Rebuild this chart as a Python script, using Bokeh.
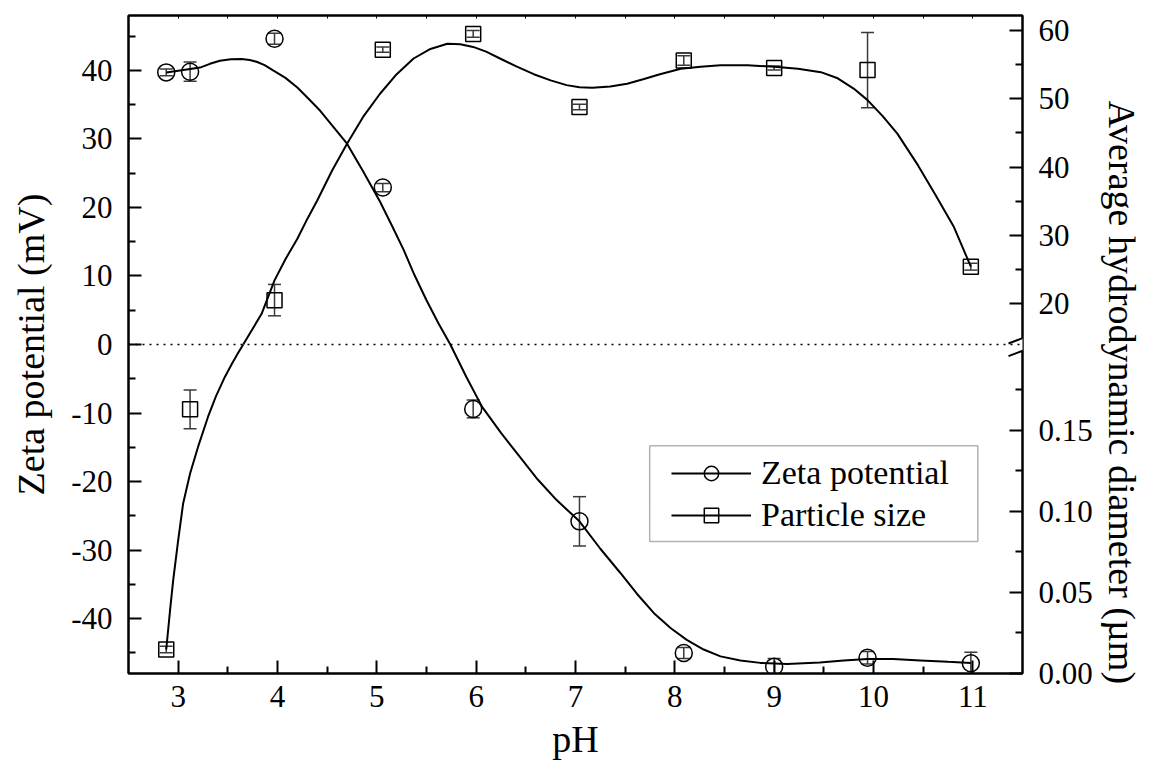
from bokeh.plotting import figure
from bokeh.models import (Range1d, LinearAxis, FixedTicker, ColumnDataSource, Whisker,
                          TeeHead, Span, Legend, LegendItem, Arrow, CustomJSTickFormatter,
                          Title, BoxAnnotation)
from bokeh.embed import file_html
from bokeh.resources import INLINE

# ---------------- data ----------------
ph = [2.88, 3.12, 3.97, 5.06, 5.97, 7.04, 8.09, 9.00, 9.94, 10.98]
zeta = [39.7, 39.8, 44.6, 22.9, -9.4, -25.8, -45.0, -47.0, -45.7, -46.5]
zeta_err = [0.5, 1.4, 0.8, 0.6, 1.3, 3.6, 0.8, 1.2, 0.9, 1.6]

size = [0.0148, 0.163, 20.5, 57.2, 59.5, 48.8, 55.6, 54.5, 54.2, 25.4]
size_err = [0.002, 0.012, 2.3, 0.4, 0.5, 0.4, 0.7, 0.3, 5.5, 0.5]

# smooth fitted curves
zeta_fit_ph = [2.88, 3.0, 3.12, 3.22, 3.32, 3.42, 3.53, 3.64, 3.72, 3.79, 3.87, 3.96, 4.08,
               4.20, 4.31, 4.43, 4.56, 4.70, 4.86, 5.03, 5.15, 5.27, 5.38, 5.50, 5.62, 5.74,
               5.90, 6.06, 6.25, 6.44, 6.62, 6.81, 7.04, 7.25, 7.45, 7.62, 7.79, 7.96, 8.12,
               8.29, 8.46, 8.66, 8.86, 9.13, 9.46, 9.70, 9.94, 10.20, 10.47, 10.75, 10.98]
zeta_fit = [39.7, 39.95, 40.2, 40.4, 40.95, 41.4, 41.6, 41.65, 41.5, 41.25, 40.75, 39.95,
            38.9, 37.5, 35.9, 34.1, 31.8, 29.3, 25.3, 20.9, 17.4, 13.8, 10.1, 6.45, 3.1, 0.0,
            -4.7, -9.1, -12.9, -16.4, -19.7, -22.7, -25.8, -29.8, -33.3, -36.4, -39.2, -41.4,
            -43.1, -44.5, -45.5, -46.1, -46.45, -46.6, -46.4, -46.1, -45.9, -45.9, -46.1,
            -46.3, -46.45]

size_fit_lo_ph = [2.88, 2.92, 2.95, 3.00, 3.05, 3.12, 3.20, 3.30, 3.38, 3.47, 3.54, 3.60,
                  3.655]
size_fit_lo = [0.0148, 0.040, 0.0576, 0.0822, 0.1049, 0.1234, 0.1398, 0.1583, 0.1710, 0.1830,
               0.1910, 0.1974, 0.203]
size_fit_hi_ph = [3.655, 3.75, 3.84, 3.97, 4.08, 4.20, 4.30, 4.40, 4.55, 4.70, 4.86, 5.03,
                  5.20, 5.37, 5.54, 5.71, 5.84, 5.97, 6.10, 6.24, 6.41, 6.58, 6.75, 6.91,
                  7.04, 7.17, 7.35, 7.52, 7.69, 7.85, 8.06, 8.26, 8.46, 8.73, 9.00, 9.24,
                  9.47, 9.64, 9.80, 9.94, 10.09, 10.24, 10.45, 10.62, 10.81, 10.98]
size_fit_hi = [14.0, 16.3, 18.5, 23.4, 26.5, 29.5, 32.4, 35.1, 39.5, 43.4, 47.3, 50.7, 53.6,
               55.9, 57.3, 58.05, 58.0, 57.6, 56.9, 55.9, 54.7, 53.6, 52.7, 52.0, 51.7, 51.6,
               51.8, 52.2, 52.9, 53.6, 54.4, 54.7, 54.9, 54.9, 54.7, 54.4, 53.9, 53.0, 51.5,
               49.8, 47.5, 44.9, 40.2, 36.0, 31.2, 25.4]

x_ticks = [3, 4, 5, 6, 7, 8, 9, 10, 11]
x_minor = [3.5, 4.5, 5.5, 6.5, 7.5, 8.5, 9.5, 10.5]
zeta_ticks = [-40, -30, -20, -10, 0, 10, 20, 30, 40]
zeta_minor = [-45, -35, -25, -15, -5, 5, 15, 25, 35, 45]
size_hi_ticks = [20, 30, 40, 50, 60]
size_hi_minor = [25, 35, 45, 55]
size_lo_ticks = [0.00, 0.05, 0.10, 0.15]
size_lo_minor = [0.025, 0.075, 0.125, 0.175]

# axis settings
X_RANGE = (2.5, 11.5)
ZETA_RANGE = (-48.0, 48.0)
SIZE_LO_BREAK = 0.203   # value at the break (lower segment)
SIZE_HI_BREAK = 14.0    # value at the break (upper segment)
SIZE_HI_TOP = 62.2

FONT = "Liberation Serif"
TITLE_SIZE = "38px"

p = figure(width=1152, height=783, x_range=Range1d(*X_RANGE), y_range=Range1d(*ZETA_RANGE),
           output_backend="svg", toolbar_location=None,
           min_border_left=128, min_border_right=130, min_border_top=15, min_border_bottom=110)
p.extra_y_ranges = {
    "hi": Range1d(2 * SIZE_HI_BREAK - SIZE_HI_TOP, SIZE_HI_TOP),
    "lo": Range1d(0.0, 2 * SIZE_LO_BREAK),
}
p.xgrid.visible = False
p.ygrid.visible = False
p.outline_line_color = "black"
p.outline_line_width = 2
p.background_fill_color = "white"
p.border_fill_color = "white"


def style_axis(ax):
    ax.axis_line_width = 2
    ax.axis_line_color = "black"
    ax.major_tick_in = 13
    ax.major_tick_out = 0
    ax.minor_tick_in = 7
    ax.minor_tick_out = 0
    ax.major_tick_line_width = 2
    ax.minor_tick_line_width = 2
    ax.major_tick_line_color = "black"
    ax.minor_tick_line_color = "black"
    ax.major_label_text_font = FONT
    ax.major_label_text_font_size = "31px"
    ax.major_label_text_color = "black"
    ax.axis_label_text_font = FONT
    ax.axis_label_text_font_size = TITLE_SIZE
    ax.axis_label_text_font_style = "normal"
    ax.axis_label_text_color = "black"


xa = p.xaxis[0]
xa.ticker = FixedTicker(ticks=x_ticks, minor_ticks=x_minor)
xa.axis_label = "pH"
xa.major_label_standoff = 12
xa.axis_label_standoff = 8
style_axis(xa)

ya = p.yaxis[0]
ya.ticker = FixedTicker(ticks=zeta_ticks, minor_ticks=zeta_minor)
ya.formatter = CustomJSTickFormatter(code="return tick.toString();")
ya.axis_label = "Zeta potential (mV)"
ya.major_label_standoff = 16
ya.axis_label_standoff = 16
style_axis(ya)

# mirror ticks on the top edge (no labels)
ta = LinearAxis(ticker=FixedTicker(ticks=x_ticks, minor_ticks=x_minor),
                formatter=CustomJSTickFormatter(code="return '';"))
style_axis(ta)
ta.major_tick_in = 3
ta.minor_tick_in = 3
ta.major_tick_line_width = 1
ta.minor_tick_line_width = 1
ta.major_label_standoff = 0
ta.major_label_text_font_size = "1px"
p.add_layout(ta, "above")

# right broken axis, placed on the zeta scale
hi = p.extra_y_ranges["hi"]
lo = p.extra_y_ranges["lo"]
zspan = ZETA_RANGE[1] - ZETA_RANGE[0]


def hi_pos(v):
    return round(ZETA_RANGE[0] + (v - hi.start) / (hi.end - hi.start) * zspan, 6)


def lo_pos(v):
    return round(ZETA_RANGE[0] + (v - lo.start) / (lo.end - lo.start) * zspan, 6)


r_pos = [lo_pos(v) for v in size_lo_ticks] + [hi_pos(v) for v in size_hi_ticks]
r_lab = ["%.2f" % v for v in size_lo_ticks] + ["%d" % v for v in size_hi_ticks]
r_minor = [lo_pos(v) for v in size_lo_minor] + [hi_pos(v) for v in size_hi_minor]

ra = LinearAxis(ticker=FixedTicker(ticks=r_pos, minor_ticks=r_minor),
                formatter=CustomJSTickFormatter(args=dict(pos=r_pos, lab=r_lab), code="""
                    for (let i = 0; i < pos.length; i++) {
                        if (Math.abs(tick - pos[i]) < 1e-4) { return lab[i]; }
                    }
                    return '';
                """))
style_axis(ra)
ra.major_label_standoff = 16
p.add_layout(ra, "right")

# right axis title, beside the axis, starting a little below the top as in the reference
p.add_layout(Title(text="Average hydrodynamic diameter (µm)", align="left", offset=85,
                   standoff=10, text_font=FONT, text_font_size=TITLE_SIZE,
                   text_font_style="normal", text_color="black"), "right")

# zero line
p.add_layout(Span(location=0, dimension="width", line_color="black", line_width=1.5,
                  line_dash="2 5"))

# ---------------- zeta potential ----------------
zeta_line = p.line(zeta_fit_ph, zeta_fit, line_color="black", line_width=2)
zsrc = ColumnDataSource(dict(x=ph, y=zeta,
                             lower=[v - e for v, e in zip(zeta, zeta_err)],
                             upper=[v + e for v, e in zip(zeta, zeta_err)]))
ERR_COLOR = "#3a3a3a"


def whisker(src, rng=None):
    kw = dict(source=src, base="x", lower="lower", upper="upper", line_color=ERR_COLOR,
              line_width=1.5,
              lower_head=TeeHead(size=13, line_color=ERR_COLOR, line_width=1.5),
              upper_head=TeeHead(size=13, line_color=ERR_COLOR, line_width=1.5))
    if rng:
        kw["y_range_name"] = rng
    return Whisker(**kw)


p.add_layout(whisker(zsrc))
zeta_mark = p.scatter("x", "y", source=zsrc, marker="circle", size=17, fill_color=None,
                      line_color="black", line_width=1.5)

# ---------------- particle size (broken axis) ----------------
lo_idx = [i for i, v in enumerate(size) if v < SIZE_LO_BREAK]
hi_idx = [i for i, v in enumerate(size) if v >= SIZE_LO_BREAK]


def size_src(idx):
    return ColumnDataSource(dict(x=[ph[i] for i in idx], y=[size[i] for i in idx],
                                 lower=[size[i] - size_err[i] for i in idx],
                                 upper=[size[i] + size_err[i] for i in idx]))


slo = size_src(lo_idx)
shi = size_src(hi_idx)
p.line(size_fit_lo_ph, size_fit_lo, y_range_name="lo", line_color="black", line_width=2)
size_line = p.line(size_fit_hi_ph, size_fit_hi, y_range_name="hi", line_color="black",
                   line_width=2)
p.add_layout(whisker(slo, "lo"))
p.add_layout(whisker(shi, "hi"))
p.scatter("x", "y", source=slo, y_range_name="lo", marker="square", size=15, fill_color=None,
          line_color="black", line_width=1.5)
size_mark = p.scatter("x", "y", source=shi, y_range_name="hi", marker="square", size=15,
                      fill_color=None, line_color="black", line_width=1.5)

# axis-break marks on the right axis
dx = 0.141
dy = 0.77
gap = 0.92
p.add_layout(Arrow(end=None, x_start=X_RANGE[1], y_start=-gap, x_end=X_RANGE[1], y_end=gap,
                   line_color="white", line_width=5, level="overlay"))
for c in (gap, -gap):
    p.add_layout(Arrow(end=None, x_start=X_RANGE[1] - dx, y_start=c - dy,
                       x_end=X_RANGE[1] + dx, y_end=c + dy,
                       line_color="black", line_width=2, level="overlay"))

# legend frame and legend
p.add_layout(BoxAnnotation(left=7.747, right=11.05, top=-14.77, bottom=-28.75,
                           fill_color="white", fill_alpha=1.0, line_color="black",
                           line_width=1.5))
legend = Legend(items=[LegendItem(label="Zeta potential", renderers=[zeta_line, zeta_mark]),
                       LegendItem(label="Particle size", renderers=[size_line, size_mark])],
                location=(543, 139), orientation="vertical",
                label_text_font=FONT, label_text_font_size="34px", label_text_color="black",
                glyph_width=80, glyph_height=36, label_standoff=10, padding=14, spacing=4,
                margin=0, border_line_color=None, background_fill_alpha=0.0)
p.add_layout(legend, "center")

open("out.html", "w").write(file_html(p, INLINE))
